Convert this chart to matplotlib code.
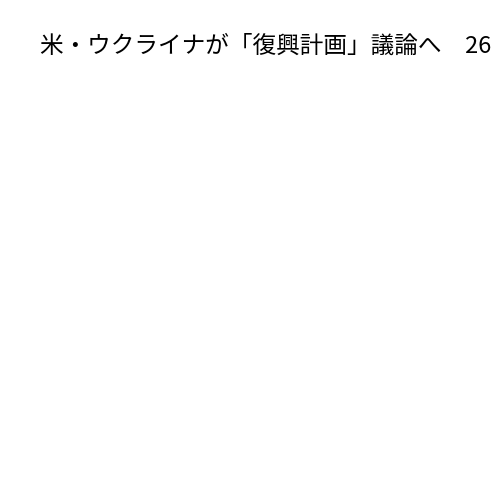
import matplotlib
matplotlib.use("Agg")
import matplotlib.pyplot as plt

plt.rcParams['font.family'] = ['Noto Sans CJK JP', 'DejaVu Sans']

headline = "米・ウクライナが「復興計画」議論へ　26"

fig = plt.figure(figsize=(5, 5), dpi=100)
fig.patch.set_facecolor("white")
fig.text(0.08, 1 - 53 / 500, headline, fontsize=17, color="black",
         ha="left", va="baseline")

fig.savefig("out.png", dpi=100, facecolor="white")
